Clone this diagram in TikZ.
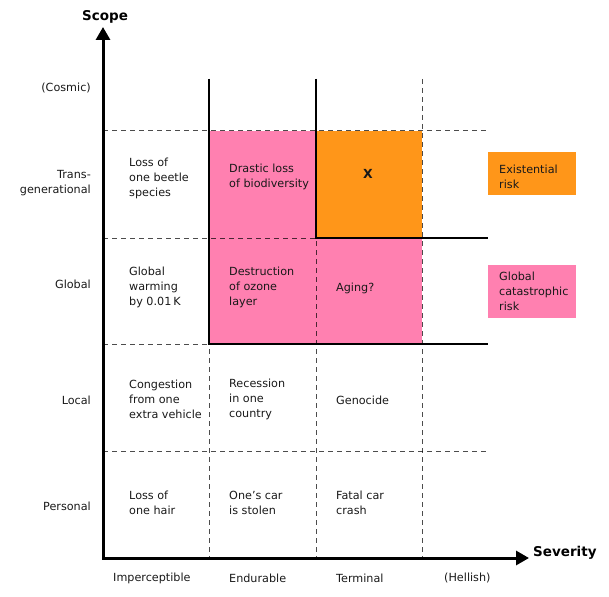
\documentclass[tikz,border=0pt]{standalone}
\usepackage{fontspec}
\setmainfont{DejaVu Sans}
\usetikzlibrary{arrows.meta}
\definecolor{gcrpink}{HTML}{FF80B0}
\definecolor{exorange}{HTML}{FF9619}
\begin{document}
\begin{tikzpicture}[x=1pt,y=-1pt,
  lbl/.style={inner sep=0pt, font=\fontsize{11.2}{15}\selectfont, text=black!90},
  cell/.style={lbl, align=left, anchor=west},
  rowlbl/.style={lbl, align=right, anchor=east},
  collbl/.style={lbl, anchor=west},
  gridline/.style={black, opacity=0.7, line width=1pt, dash pattern=on 5pt off 4pt},
  solidline/.style={black, line width=1.6pt},
  axis/.style={black, line width=3pt, {Triangle[length=13pt,width=14pt]}-{Triangle[length=13pt,width=14pt]}},
  axlbl/.style={inner sep=0pt, font=\fontsize{13.5}{16}\selectfont\bfseries},
  legendbox/.style={inner sep=0pt, anchor=north west, minimum width=88pt, minimum height=#1},
]
\useasboundingbox (0,0) rectangle (609,596);

% coloured regions
\fill[gcrpink] (209,131) rectangle (422,344);
\fill[exorange] (316,131) rectangle (422,238);

% dashed grid
\foreach \yy [count=\i] in {131,238,344,451}{
  \coordinate (hl\i) at (103,\yy);
  \coordinate (hr\i) at (488,\yy);
  \draw[gridline] (hl\i) -- (hr\i);
}
\foreach \xx [count=\i] in {209,316,422}{
  \coordinate (vt\i) at (\xx,79);
  \coordinate (vb\i) at (\xx,557);
  \draw[gridline] (vt\i) -- (vb\i);
}

% solid boundaries
\coordinate (gcrcorner) at (209,344);
\coordinate (gcrend) at (488,344);
\coordinate (excorner) at (316,238);
\coordinate (exend) at (488,238);
\draw[solidline] (vt1) -- (gcrcorner) -- (gcrend);
\draw[solidline] (vt2) -- (excorner) -- (exend);

% axes
\coordinate (ytip) at (103,27);
\coordinate (origin) at (103,558);
\coordinate (xtip) at (529,558);
\draw[axis] (ytip) -- (origin) -- (xtip);
\node[axlbl] (scope) at (105,17) {Scope};
\node[axlbl, anchor=west] (severity) at (533,553) {Severity};

% row labels
\node[rowlbl] (cosmic) at (91,88) {(Cosmic)};
\node[rowlbl] (trans) at (91,183) {Trans-\\generational};
\node[rowlbl] (global) at (91,284) {Global};
\node[rowlbl] (local) at (91,400) {Local};
\node[rowlbl] (personal) at (91,506) {Personal};

% column labels
\node[collbl] (imperc) at (113,578) {Imperceptible};
\node[collbl] (endur) at (229,578) {Endurable};
\node[collbl] (termin) at (336,578) {Terminal};
\node[collbl] (hellish) at (444,578) {(Hellish)};

% cells
\node[cell] (beetle) at (129,178) {Loss of\\one beetle\\species};
\node[cell] (warming) at (129,287) {Global\\warming\\by 0.01\,K};
\node[cell] (congestion) at (129,399.5) {Congestion\\from one\\extra vehicle};
\node[cell] (hair) at (129,502.5) {Loss of\\one hair};
\node[cell] (biodiv) at (229,176.5) {Drastic loss\\of biodiversity};
\node[cell] (ozone) at (229,287) {Destruction\\of ozone\\layer};
\node[cell] (recession) at (229,399.5) {Recession\\in one\\country};
\node[cell] (car) at (229,502.5) {One’s car\\is stolen};
\node[lbl, font=\fontsize{12.5}{15}\selectfont\bfseries] (x) at (368,174) {X};
\node[cell] (aging) at (336,288) {Aging?};
\node[cell] (genocide) at (336,400) {Genocide};
\node[cell] (crash) at (336,502.5) {Fatal car\\crash};

% legend
\node[legendbox=43pt, fill=exorange] (exbox) at (488,152) {};
\node[cell] (extext) at (499,177) {Existential\\risk};
\node[legendbox=53pt, fill=gcrpink] (gcrbox) at (488,265) {};
\node[cell] (gcrtext) at (499,291) {Global\\catastrophic\\risk};
\end{tikzpicture}
\end{document}
